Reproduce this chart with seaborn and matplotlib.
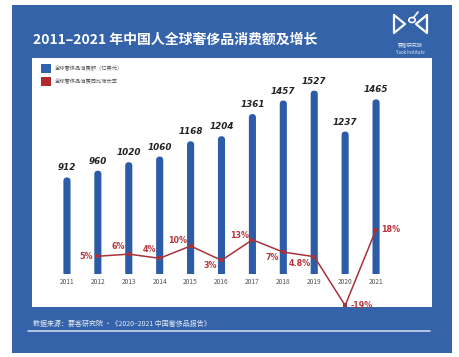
import numpy as np
import pandas as pd
import matplotlib
matplotlib.use("Agg")
import matplotlib.pyplot as plt
import seaborn as sns
from matplotlib.patches import Rectangle, Patch, FancyBboxPatch, Circle
from matplotlib.lines import Line2D

years = ['2011', '2012', '2013', '2014', '2015', '2016', '2017', '2018', '2019', '2020', '2021']
spend = [912, 960, 1020, 1060, 1168, 1204, 1361, 1457, 1527, 1237, 1465]
growth = [np.nan, 5, 6, 4, 10, 3, 13, 7, 4.8, -19, 18]
growth_labels = ['', '5%', '6%', '4%', '10%', '3%', '13%', '7%', '4.8%', '-19%', '18%']

sns.set_style('white')
plt.rcParams['font.family'] = ['Noto Sans CJK SC', 'DejaVu Sans']

W, H = 459, 357
PANEL = '#3463aa'
BAR = '#2c5ca8'
RED = '#a8323a'
LABEL_RED = '#b5363d'

fig = plt.figure(figsize=(W / 100, H / 100), dpi=100)
fig.patch.set_facecolor('white')

def px(x0, y0, x1, y1):
    # pixel box (top-left origin) -> figure fraction rect
    return [x0 / W, 1 - y1 / H, (x1 - x0) / W, (y1 - y0) / H]

# blue card and white chart area (behind the axes)
r = px(12, 5, 452, 353)
fig.patches.append(Rectangle((r[0], r[1]), r[2], r[3], transform=fig.transFigure,
                             facecolor=PANEL, edgecolor='none', zorder=-2))
r = px(32, 58, 432, 307)
fig.patches.append(Rectangle((r[0], r[1]), r[2], r[3], transform=fig.transFigure,
                             facecolor='white', edgecolor='none', zorder=-1))

df = pd.DataFrame({'year': years, 'spend': spend, 'growth': growth})
df['pos'] = np.arange(len(years))

# bars
ax = fig.add_axes(px(51.5, 60, 391.5, 274))
ax.patch.set_alpha(0)
sns.barplot(data=df, x='year', y='spend', color=BAR, width=0.23, saturation=1, ax=ax)
ax.set_xlim(-0.5, len(years) - 0.5)
ax.set_ylim(228, 1744)

# round the bar tops
ax_w_px = 340.0
ax_h_px = 214.0
aspect = ((1744 - 228) / ax_h_px) / (len(years) / ax_w_px)
for p in list(ax.patches):
    x, w, h = p.get_x(), p.get_width(), p.get_height()
    p.remove()
    ax.add_patch(FancyBboxPatch((x, 0), w, h,
                                boxstyle=f'round,pad=0,rounding_size={w / 2}',
                                mutation_aspect=aspect, facecolor=BAR,
                                edgecolor='none'))

for i, v in enumerate(spend):
    ax.annotate(str(v), (i, v), xytext=(0, 5), textcoords='offset pixels',
                ha='center', va='bottom', fontsize=6.3, fontweight='bold',
                fontstyle='italic', family='DejaVu Sans', color='#222222')

ax.set_xlabel('')
ax.set_ylabel('')
ax.set_yticks([])
ax.tick_params(axis='x', length=0, pad=3, labelsize=4.8, labelcolor='#555555')
sns.despine(ax=ax, left=True, bottom=True)

# growth line
ax2 = fig.add_axes(px(51.5, 60, 391.5, 310))
ax2.patch.set_alpha(0)
sns.lineplot(data=df, x='pos', y='growth', color=RED, linewidth=1.1,
             marker='s', markersize=3.5, markeredgewidth=0, ax=ax2)
ax2.set_xlim(-0.5, len(years) - 0.5)
ax2.set_ylim(-21.2, 100.6)
ax2.axis('off')

offsets = {1: (-5, 0, 'right', 'center'), 2: (-4, 3, 'right', 'bottom'),
           3: (-3, 4, 'right', 'bottom'), 4: (-3, 1, 'right', 'bottom'),
           5: (-4, -1, 'right', 'top'), 6: (-3, 0, 'right', 'bottom'),
           7: (-4, -1, 'right', 'top'), 8: (-3, -2, 'right', 'top'),
           9: (5, 0, 'left', 'center'), 10: (5, 0, 'left', 'center')}
for i, (dx, dy, ha, va) in offsets.items():
    ax2.annotate(growth_labels[i], (i, growth[i]), xytext=(dx, dy),
                 textcoords='offset pixels', ha=ha, va=va, fontsize=5.8,
                 fontweight='bold', color=LABEL_RED, family='DejaVu Sans',
                 annotation_clip=False)

# legend
handles = [Patch(facecolor='#2f62b0', edgecolor='none', label='全球奢侈品消费额（亿美元）'),
           Patch(facecolor='#b3282d', edgecolor='none', label='全球奢侈品消费同比增长率')]
fig.legend(handles=handles, loc='upper left', bbox_to_anchor=(36 / W, 1 - 59 / H),
           frameon=False, fontsize=3.8, handlelength=1.9, handleheight=2.2,
           labelspacing=0.9, handletextpad=0.8, labelcolor='#555555')

# title
fig.text(33 / W, 1 - 40 / H, '2011–2021 年中国人全球奢侈品消费额及增长',
         color='white', fontsize=10, fontweight='bold', ha='left', va='center')

# logo
fig.lines.append(Line2D([394 / W, 394 / W, 405 / W, 394 / W],
                        [1 - 15 / H, 1 - 33 / H, 1 - 24 / H, 1 - 15 / H],
                        transform=fig.transFigure, color='white', linewidth=1.6))
fig.lines.append(Line2D([427 / W, 427 / W, 416 / W, 427 / W],
                        [1 - 15 / H, 1 - 33 / H, 1 - 24 / H, 1 - 15 / H],
                        transform=fig.transFigure, color='white', linewidth=1.6))
fig.patches.append(Circle((412 / W, 1 - 20 / H), 3.2 / W, transform=fig.transFigure,
                          facecolor='none', edgecolor='white', linewidth=1.2))
fig.lines.append(Line2D([414 / W, 418 / W], [1 - 17 / H, 1 - 12 / H],
                        transform=fig.transFigure, color='white', linewidth=1.2))
fig.text(410 / W, 1 - 46 / H, '要客研究院', color='#dde6f5', fontsize=3.6,
         ha='center', va='center')
fig.text(410 / W, 1 - 52 / H, 'Yaok Institute', color='#dde6f5', fontsize=3.2,
         ha='center', va='center')

# footer
fig.text(33 / W, 1 - 324 / H, '数据来源：要客研究院 ·《2020–2021 中国奢侈品报告》',
         color='#e6ecf7', fontsize=5.0, ha='left', va='center')
fig.lines.append(Line2D([28 / W, 430 / W], [1 - 331 / H, 1 - 331 / H],
                        transform=fig.transFigure, color='#c9d8ee', linewidth=1.2))

fig.savefig('out.png', dpi=100, facecolor=fig.get_facecolor())
